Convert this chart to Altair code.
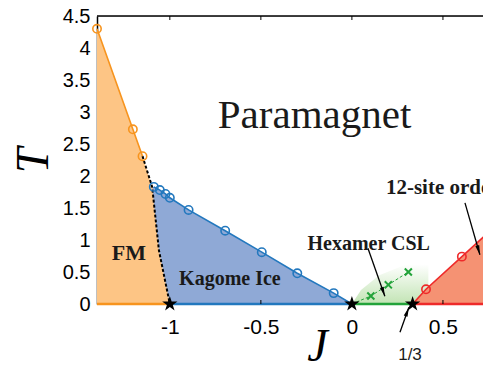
import altair as alt
import pandas as pd

# ---------------- data ----------------
fm_J = [-1.40, -1.203, -1.15]              # FM / paramagnet boundary (orange circles)
fm_T = [4.30, 2.73, 2.31]
bnd_J = [-1.15, -1.097, -1.06, -1.0]       # FM / Kagome-ice boundary (dashed)
bnd_T = [2.31, 1.83, 0.84, 0.0]
ki_J = [-1.088, -1.055, -1.024, -1.0, -0.897, -0.696, -0.495, -0.30, -0.10]   # Kagome ice (blue circles)
ki_T = [1.83, 1.78, 1.72, 1.66, 1.47, 1.145, 0.81, 0.48, 0.17]
hex_J = [0.104, 0.20, 0.31]                # hexamer CSL crossover (green x)
hex_T = [0.125, 0.30, 0.50]
hexfill_J = [0.0, 0.05, 0.15, 0.30, 0.42]  # shaded crossover region
hexfill_T = [0.0, 0.22, 0.45, 0.62, 0.62]
ord_J = [0.407, 0.604]                     # 12-site order (red circles)
ord_T = [0.23, 0.74]
ord_end_J = [0.80]
ord_end_T = [1.25]
crit_J = [-1.0, 0.0, 1 / 3]                # T = 0 transition points (stars)
seg_start = [-1.40, -1.0, 0.0, 1 / 3]      # ground-state phases along T = 0
seg_end = [-1.0, 0.0, 1 / 3, 0.72]
x_ticks = [-1, -0.5, 0, 0.5]
y_ticks = [0, 0.5, 1, 1.5, 2, 2.5, 3, 3.5, 4, 4.5]

arrows = {  # label arrows: tail (J, T) -> head (J, T)
    "hex": ([0.088, 0.87], [0.181, 0.12]),
    "ord": ([0.621, 1.58], [0.703, 0.77]),
    "third": ([0.264, -0.44], [0.313, -0.05]),
}

# ---------------- styling ----------------
W, H = 386, 288
ORANGE, ORANGE_F = "#F7941E", "#FDC585"
BLUE, BLUE_F = "#2378BE", "#8FA9D6"
RED, RED_F = "#EE2A2A", "#F59273"
GREEN = "#23A33A"
SERIF = "Liberation Serif"
SANS = "Liberation Sans"

xs = alt.Scale(domain=[-1.4, 0.72], nice=False, zero=False)
ys = alt.Scale(domain=[0, 4.5], nice=False, zero=False)
xaxis = alt.Axis(values=x_ticks, labelExpr="toString(datum.value)", ticks=False, grid=False,
                 labelOverlap=False, domainColor="black", domainWidth=1, labelFont=SANS,
                 labelFontSize=21, labelColor="black", labelPadding=12, title="J", titleFont=SERIF,
                 titleFontStyle="italic", titleFontWeight="normal", titleFontSize=46,
                 titleColor="black", titleX=220, titleY=56, titleBaseline="alphabetic")
yaxis = alt.Axis(values=y_ticks, labelExpr="toString(datum.value)", ticks=False, grid=False,
                 labelOverlap=False, domainColor="black", domainWidth=1.5, labelFont=SANS,
                 labelFontSize=20, labelColor="black", labelPadding=7, title="T", titleFont=SERIF,
                 titleFontStyle="italic", titleFontWeight="normal", titleFontSize=46,
                 titleColor="black", titleX=-50, titleY=144, titleAngle=270,
                 titleBaseline="alphabetic", titleAlign="center")


def X(f="J"):
    return alt.X(f"{f}:Q", scale=xs, axis=xaxis)


def Y(f="T"):
    return alt.Y(f"{f}:Q", scale=ys, axis=yaxis, stack=None)


def df(J, T):
    return pd.DataFrame({"J": J, "T": T, "z": [0.0] * len(J)})


# areas
orange_area_df = df(fm_J + bnd_J[1:], fm_T + bnd_T[1:])
blue_area_df = df([bnd_J[1]] + ki_J + [0.0], [bnd_T[1]] + ki_T + [0.0])
red_area_df = df([1 / 3] + ord_J + ord_end_J, [0.0] + ord_T + ord_end_T)
hex_area_df = df(hexfill_J, hexfill_T)

grad = alt.Gradient(gradient="linear",
                    stops=[alt.GradientStop(color="#c2e4b4", offset=0),
                           alt.GradientStop(color="#ffffff", offset=1)],
                    x1=0, x2=0, y1=1, y2=0)

layers = []
layers.append(alt.Chart(hex_area_df).mark_area(color=grad).encode(x=X(), y=Y(), y2="z:Q"))
layers.append(alt.Chart(blue_area_df).mark_area(color=BLUE_F, opacity=1).encode(x=X(), y=Y(), y2="z:Q"))
layers.append(alt.Chart(orange_area_df).mark_area(color=ORANGE_F, opacity=1).encode(x=X(), y=Y(), y2="z:Q"))
layers.append(alt.Chart(red_area_df).mark_area(color=RED_F, opacity=1, clip=True).encode(x=X(), y=Y(), y2="z:Q"))

# boundary lines
layers.append(alt.Chart(df(bnd_J, bnd_T)).mark_line(color="black", strokeWidth=2, strokeDash=[3, 2])
              .encode(x=X(), y=Y()))
layers.append(alt.Chart(df(fm_J, fm_T)).mark_line(color=ORANGE, strokeWidth=1.6).encode(x=X(), y=Y()))
layers.append(alt.Chart(df(ki_J + [0.0], ki_T + [0.0])).mark_line(color=BLUE, strokeWidth=1.6)
              .encode(x=X(), y=Y()))
layers.append(alt.Chart(df([1 / 3] + ord_J + ord_end_J, [0.0] + ord_T + ord_end_T))
              .mark_line(color=RED, strokeWidth=1.6, clip=True).encode(x=X(), y=Y()))
layers.append(alt.Chart(df([0.0] + hex_J, [0.0] + hex_T)).mark_line(color=GREEN, strokeWidth=1, strokeDash=[3, 2])
              .encode(x=X(), y=Y()))

# ground-state segments along T = 0
seg_colors = [ORANGE, BLUE, GREEN, RED]
for s, e, c in zip(seg_start, seg_end, seg_colors):
    layers.append(alt.Chart(pd.DataFrame({"J": [s], "J2": [e], "z": [0.0]})).mark_rule(color=c, strokeWidth=2.6)
                  .encode(x=X(), x2="J2:Q", y=Y("z")))

# markers
for J, T, c in [(fm_J, fm_T, ORANGE), (ki_J, ki_T, BLUE), (ord_J, ord_T, RED)]:
    layers.append(alt.Chart(df(J, T)).mark_point(shape="circle", filled=False, size=70, strokeWidth=1.6,
                                                 color=c, opacity=1).encode(x=X(), y=Y()))
layers.append(alt.Chart(df(hex_J, hex_T)).mark_point(shape="M-1,-1L1,1M-1,1L1,-1", filled=False, size=50,
                                                     strokeWidth=2, color=GREEN, opacity=1)
              .encode(x=X(), y=Y()))
STAR = ("M0,-1L0.2245,-0.309L0.9511,-0.309L0.3633,0.118L0.5878,0.809L0,0.382L-0.5878,0.809"
        "L-0.3633,0.118L-0.9511,-0.309L-0.2245,-0.309Z")
layers.append(alt.Chart(pd.DataFrame({"J": crit_J, "T": [0.0] * 3}))
              .mark_point(shape=STAR, filled=True, size=260, color="black", opacity=1)
              .encode(x=X(), y=Y()))

# arrows
ARROW = "M0,0L-0.42,2L0.42,2Z"
angles = {"hex": 161, "ord": 164, "third": 20}
for k, (tail, head) in arrows.items():
    a = pd.DataFrame({"J": [tail[0]], "T": [tail[1]], "J2": [head[0]], "T2": [head[1]]})
    layers.append(alt.Chart(a).mark_rule(color="black", strokeWidth=1.3)
                  .encode(x=X(), y=Y(), x2="J2:Q", y2="T2:Q"))
    layers.append(alt.Chart(a).mark_point(shape=ARROW, filled=True, size=90, color="black", opacity=1,
                                          angle=angles[k]).encode(x=X("J2"), y=Y("T2")))


# labels
def label(text, J, T, size, font=SERIF, weight="bold", align="center", clip=False):
    return (alt.Chart(pd.DataFrame({"J": [J], "T": [T], "t": [text]}))
            .mark_text(font=font, fontSize=size, fontWeight=weight, align=align, baseline="alphabetic",
                       color="#1a1a1a", clip=clip)
            .encode(x=X(), y=Y(), text="t:N"))


layers.append(label("Paramagnet", -0.205, 2.75, 41, weight="normal"))
layers.append(label("FM", -1.225, 0.69, 22))
layers.append(label("Kagome Ice", -0.67, 0.30, 20))
layers.append(label("Hexamer CSL", 0.092, 0.84, 20))
layers.append(label("12-site order", 0.187, 1.72, 21, align="left", clip=True))
layers.append(label("1/3", 0.319, -0.87, 17, font=SANS, weight="normal"))

# frame: top border and inward ticks
layers.append(alt.Chart(pd.DataFrame({"a": [0]})).mark_rule(color="black", strokeWidth=1.3)
              .encode(x=alt.value(0), x2=alt.value(W), y=alt.value(0)))
tk = pd.DataFrame({"J": x_ticks})
layers.append(alt.Chart(tk).mark_rule(color="black", strokeWidth=1).encode(x=X(), y=alt.value(0), y2=alt.value(4)))
layers.append(alt.Chart(tk).mark_rule(color="black", strokeWidth=1).encode(x=X(), y=alt.value(H - 4), y2=alt.value(H)))

chart = (alt.layer(*layers)
         .properties(width=W, height=H,
                     padding={"left": 89, "top": 8, "right": 0, "bottom": 64},
                     autosize=alt.AutoSizeParams(type="none"))
         .configure_view(stroke=None)
         .configure(background="white"))

chart.save("out.html", embed_options={"renderer": "svg", "actions": False})
